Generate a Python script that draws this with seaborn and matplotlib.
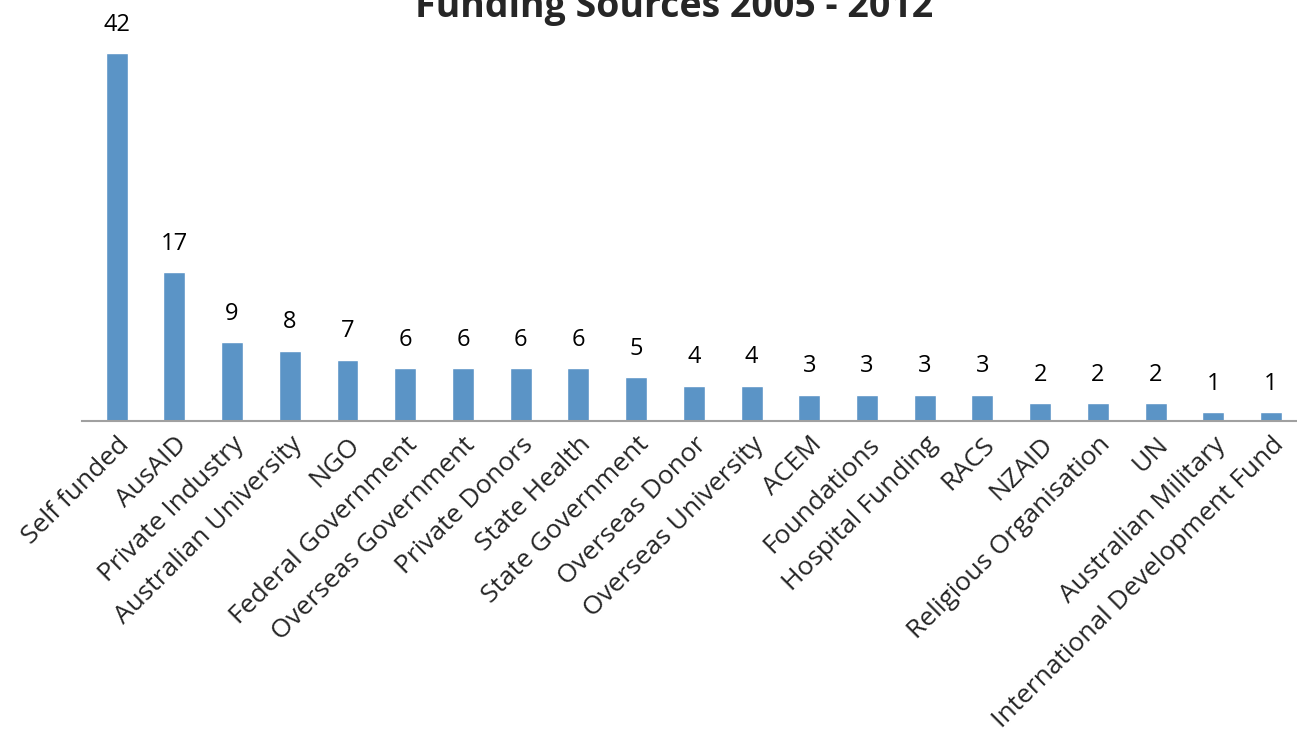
import matplotlib
matplotlib.use('Agg')
import matplotlib.pyplot as plt
import seaborn as sns
import pandas as pd

# 자금 출처별 건수
sources = ['Self funded', 'AusAID', 'Private Industry', 'Australian University', 'NGO',
           'Federal Government', 'Overseas Government', 'Private Donors', 'State Health',
           'State Government', 'Overseas Donor', 'Overseas University', 'ACEM', 'Foundations',
           'Hospital Funding', 'RACS', 'NZAID', 'Religious Organisation', 'UN',
           'Australian Military', 'International Development Fund']
counts = [42, 17, 9, 8, 7, 6, 6, 6, 6, 5, 4, 4, 3, 3, 3, 3, 2, 2, 2, 1, 1]

df = pd.DataFrame({'source': sources, 'count': counts})

sns.set_theme(style='white')
plt.rcParams['font.family'] = ['Open Sans', 'DejaVu Sans']

fig = plt.figure(figsize=(12.97, 7.4), dpi=100)
ax = fig.add_axes([82/1297, 1 - 421/740, 1 - 82/1297, (421 - 27)/740])

sns.barplot(data=df, x='source', y='count', color='#5B94C6', width=0.38,
            saturation=1, ax=ax)

# 막대 위 값 표시
for i, v in enumerate(counts):
    ax.text(i, v + 1.9, str(v), ha='center', va='bottom', fontsize=17, color='black')

ax.set_xlim(-0.6, 20.45)
ax.set_ylim(0, 45)
ax.set_xlabel('')
ax.set_ylabel('')
ax.set_yticks([])
ax.tick_params(axis='x', length=0, pad=8)
ax.set_xticks(range(len(sources)))
ax.set_xticklabels(sources, rotation=45, ha='right', rotation_mode='anchor', fontsize=19)

for s in ['top', 'right', 'left']:
    ax.spines[s].set_visible(False)
ax.spines['bottom'].set_color('#A0A0A0')
ax.spines['bottom'].set_linewidth(1.5)

fig.text(0.52, 1 - 17/740, 'Funding Sources 2005 - 2012', ha='center', va='baseline',
         fontsize=27, fontweight='bold')

fig.savefig('out.png', dpi=100)
